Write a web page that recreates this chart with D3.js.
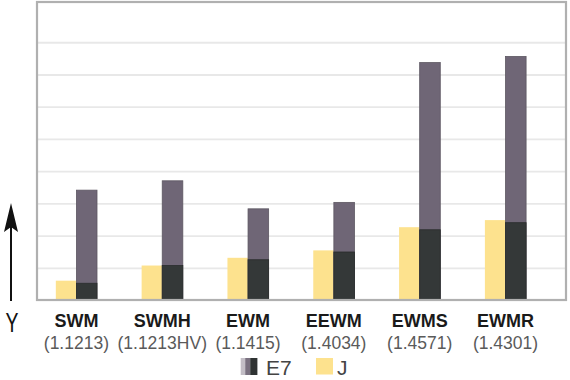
<!DOCTYPE html>
<html>
<head>
<meta charset="utf-8">
<script src="https://cdn.jsdelivr.net/npm/d3@7"></script>
<style>
  html, body { margin: 0; padding: 0; background: #fff; }
  svg { display: block; font-family: "Liberation Sans", Arial, Helvetica, sans-serif; }
</style>
</head>
<body>
<svg id="chart" width="570" height="380"></svg>
<script>
// ---- data ----
const categories = ["SWM", "SWMH", "EWM", "EEWM", "EWMS", "EWMR"];
const subLabels = ["(1.1213)", "(1.1213HV)", "(1.1415)", "(1.4034)", "(1.4571)", "(1.4301)"];
const jValues = [0.60, 1.07, 1.31, 1.54, 2.26, 2.48];
const e7Lower = [0.52, 1.07, 1.25, 1.49, 2.18, 2.40];
const e7Total = [3.41, 3.70, 2.83, 3.03, 7.37, 7.56];
const gridTicks = [1, 2, 3, 4, 5, 6, 7, 8];
const yMax = 9.25;
const seriesNames = ["J", "E7"];

// ---- layout ----
const svg = d3.select("#chart");
const frame = { left: 37, right: 566, top: 2, bottom: 300 };

const x0 = d3.scaleBand().domain(categories).range([33.5, 548.4]).paddingInner(0.52).paddingOuter(0.26);
const x1 = d3.scaleBand().domain(seriesNames).range([0, x0.bandwidth()]).padding(0);
const y = d3.scaleLinear().domain([0, yMax]).range([frame.bottom, frame.top]);

// gridlines
svg.append("g")
  .attr("transform", `translate(${frame.left},0)`)
  .call(d3.axisLeft(y).tickValues(gridTicks).tickSize(-(frame.right - frame.left)).tickFormat(""))
  .call(g => g.select(".domain").remove())
  .call(g => g.selectAll(".tick line").attr("stroke", "#e8e8e8").attr("stroke-width", 1.8));

const colors = { J: "#fde28e", E7top: "#6f6676", E7low: "#343838" };

const groups = svg.append("g").selectAll("g")
  .data(categories.map((c, i) => ({ c, i })))
  .join("g")
  .attr("transform", d => `translate(${x0(d.c)},0)`);

// J bars
groups.append("rect")
  .attr("x", x1("J"))
  .attr("width", x1.bandwidth())
  .attr("y", d => y(jValues[d.i]))
  .attr("height", d => y(0) - y(jValues[d.i]))
  .attr("fill", colors.J);

// E7 total bars
groups.append("rect")
  .attr("x", x1("E7"))
  .attr("width", x1.bandwidth())
  .attr("y", d => y(e7Total[d.i]))
  .attr("height", d => y(0) - y(e7Total[d.i]))
  .attr("fill", colors.E7top)
  .attr("stroke", "#5d5762").attr("stroke-width", 0.8);

// E7 lower (dark) part
groups.append("rect")
  .attr("x", x1("E7"))
  .attr("width", x1.bandwidth())
  .attr("y", d => y(e7Lower[d.i]))
  .attr("height", d => y(0) - y(e7Lower[d.i]))
  .attr("fill", colors.E7low)
  .attr("stroke", "#2a2d2d").attr("stroke-width", 0.8);

// frame
svg.append("rect")
  .attr("x", frame.left).attr("y", frame.top)
  .attr("width", frame.right - frame.left).attr("height", frame.bottom - frame.top)
  .attr("fill", "none").attr("stroke", "#b0b0b0").attr("stroke-width", 2.2);

// category labels
const labels = svg.append("g");
categories.forEach((c, i) => {
  const cx = x0(c) + x0.bandwidth() / 2;
  labels.append("text").attr("x", cx).attr("y", 327).attr("text-anchor", "middle")
    .attr("font-size", 18).attr("font-weight", "bold").attr("fill", "#1a1a1a").text(c);
  labels.append("text").attr("x", cx).attr("y", 349).attr("text-anchor", "middle")
    .attr("font-size", 17.5).attr("fill", "#5a5a5a").text(subLabels[i]);
});

// Y axis arrow + label
svg.append("line").attr("x1", 11).attr("x2", 11).attr("y1", 225).attr("y2", 301)
  .attr("stroke", "#111").attr("stroke-width", 2);
svg.append("path").attr("d", "M11,203 L18,232 L11,227 L4,232 Z").attr("fill", "#111");
svg.append("text").attr("transform", "translate(12,332) scale(0.72,1)")
  .attr("text-anchor", "middle").attr("font-size", 27).attr("fill", "#111").text("Y");

// legend
const lg = svg.append("g");
lg.append("rect").attr("x", 240.7).attr("y", 358).attr("width", 4.5).attr("height", 17).attr("fill", "#c3bec6");
lg.append("rect").attr("x", 245.2).attr("y", 358).attr("width", 5).attr("height", 17).attr("fill", "#7a7180");
lg.append("rect").attr("x", 250.2).attr("y", 358).attr("width", 7.2).attr("height", 17).attr("fill", "#2f3333");
lg.append("text").attr("x", 266).attr("y", 375).attr("font-size", 21).attr("fill", "#444").text("E7");
lg.append("rect").attr("x", 316).attr("y", 358).attr("width", 17).attr("height", 16.5).attr("fill", colors.J);
lg.append("text").attr("x", 337).attr("y", 375).attr("font-size", 21).attr("fill", "#444").text("J");
</script>
</body>
</html>
